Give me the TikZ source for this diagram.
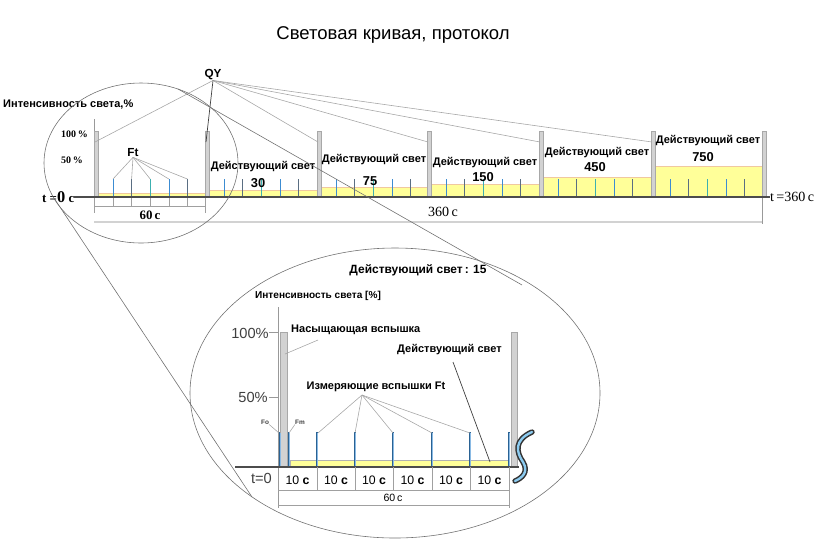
\documentclass[tikz,border=0pt]{standalone}
\usepackage{fontspec}
\setmainfont{Liberation Sans}
\newfontfamily\serifA{Liberation Serif}
\definecolor{barfill}{HTML}{D2D2D2}
\definecolor{bardraw}{HTML}{A8A8A8}
\definecolor{yel}{HTML}{FFFF99}
\definecolor{yeledge}{HTML}{F0C8A0}
\definecolor{flA}{HTML}{3C8CD2}
\definecolor{flB}{HTML}{3CB0B0}
\definecolor{flC}{HTML}{5A6E82}
\definecolor{ell}{HTML}{707070}
\definecolor{dimc}{HTML}{A0A0A0}
\definecolor{txtg}{HTML}{404040}
\definecolor{sq}{HTML}{8CCBF0}
\begin{document}
\begin{tikzpicture}[x=0.03cm,y=-0.03cm,
  lbl/.style={font=\fontsize{9.4}{10}\selectfont\bfseries, inner sep=0},
  num/.style={font=\fontsize{11}{12}\selectfont\bfseries, inner sep=0},
  lblsm/.style={font=\fontsize{8.6}{9}\selectfont\bfseries, inner sep=0},
  ser/.style={font=\serifA\fontsize{11}{12}\selectfont\bfseries, inner sep=0},
  serr/.style={font=\serifA\fontsize{12}{13}\selectfont, inner sep=0},
  reg/.style={font=\fontsize{12.5}{13}\selectfont, text=txtg, inner sep=0},
  tiny/.style={font=\fontsize{5.5}{6}\selectfont\bfseries, text=txtg, inner sep=0},
  bar/.style={fill=barfill, draw=bardraw, line width=0.5pt},
  ptr/.style={draw=gray!70, line width=0.5pt},
  ptrd/.style={draw=black!75, line width=0.6pt},
  ellline/.style={draw=ell, line width=0.5pt},
  dim/.style={draw=dimc, line width=0.5pt}]
\useasboundingbox (0,0) rectangle (822,546);

% title
\node[font=\fontsize{15.8}{17}\selectfont, inner sep=0] (title) at (393,35) {Световая кривая, протокол};

% ----- top chart -----
% yellow levels
\foreach \a/\b/\t [count=\i] in {98.2/204.8/193, 209.2/316.8/190.7, 321.2/426.8/187.7, 431.2/538.8/184, 543.2/650.8/177.3, 655.2/761.8/166.7}{
  \fill[yel] (\a,\t) rectangle (\b,196);
  \draw[yeledge, line width=0.6pt] (\a,\t) -- (\b,\t);
}
% dimension lines top
\draw[dim] (94,196) -- (94,213);
\draw[draw=gray!80, line width=0.7pt] (94,119) -- (94,196);
\draw[dim] (205,196) -- (205,213);
\draw[dim] (94,206) -- (205,206);
\draw[draw=gray!35, line width=1.3pt] (94,222) -- (762,222);
\draw[draw=gray!80, line width=0.6pt] (762,196) -- (762,224);
\foreach \x in {113,131.6,150.2,168.8,187.4} \draw[dim] (\x,196) -- (\x,206);
% flashes
\foreach \s [count=\j] in {98.2,209.2,321.2,431.2,543.2,655.2}{
  \foreach \k/\c in {0/flA,1/flC,2/flB,3/flA,4/flC}{
    \draw[\c, line width=0.8pt] ({\s+15+18.6*\k},179) -- ({\s+15+18.6*\k},196);
  }
}
% bars
\foreach \x [count=\i] in {96,207,319,429,541,653,764}{
  \fill[bar] (\x-2.2,131) rectangle (\x+2.2,196);
  \coordinate (b\i) at (\x-1,142);
}
% axis
\node[ser, anchor=west] (t0) at (42,197) {t =\fontsize{14}{14}\selectfont 0\fontsize{11}{12}\selectfont{} с};
\node[serr, anchor=west] (t360) at (770,197) {t\,=360\,с};
\draw[black!70, line width=1pt] (t0.east) -- (t360.west);

% labels top
\node[lbl, anchor=west] (int) at (3,105) {Интенсивность света,\%};
\node[ser, font=\serifA\fontsize{8.5}{9}\selectfont\bfseries, anchor=west] (p100) at (61,134) {100\,\%};
\node[ser, font=\serifA\fontsize{8.5}{9}\selectfont\bfseries, anchor=west] (p50) at (61,160) {50\,\%};
\node[ser, fill=white, inner sep=1pt] (d60) at (150,215) {60\,с};
\node[serr] (d360) at (443,212) {360\,с};

\node[lbl, font=\fontsize{10}{11}\selectfont\bfseries] (ft) at (133,153) {Ft};
\foreach \x in {113,131.6,150.2,168.8,187.4} \draw[ptr] (ft.south) -- (\x,179);

\node[lbl, font=\fontsize{10}{11}\selectfont\bfseries] (qy) at (213,75) {QY};
\foreach \i in {1,3,4,5,6} \draw[ptr] (qy.south) -- (b\i);
\draw[ptrd] (qy.south) -- (b2);

\node[lbl] (e30a) at (263,167) {Действующий свет};
\node[num] (e30b) at (258,183) {30};
\node[lbl] (e75a) at (374,160) {Действующий свет};
\node[num] (e75b) at (370,181) {75};
\node[lbl] (e150a) at (485,163) {Действующий свет};
\node[num] (e150b) at (483,177) {150};
\node[lbl] (e450a) at (597,153) {Действующий свет};
\node[num] (e450b) at (595,167) {450};
\node[lbl] (e750a) at (708,141) {Действующий свет};
\node[num] (e750b) at (703,157) {750};

% ellipses and connecting lines
\draw[ellline] (141,163) ellipse [x radius=97, y radius=80];
\draw[ellline] (395,393) ellipse [x radius=205, y radius=145];
\coordinate (c1) at (54,198);
\coordinate (c2) at (252,497);
\coordinate (c3) at (178,89);
\coordinate (c4) at (522,285);
\draw[ellline] (c1) -- (c2);
\draw[ellline] (c3) -- (c4);

% ----- bottom chart -----
\node[lbl, font=\fontsize{10.2}{11}\selectfont\bfseries] (e15) at (418,270) {Действующий свет\,: 15};
\node[lblsm] (intb) at (318,296) {Интенсивность света [\%]};
\node[reg, anchor=east] (b100) at (269,333) {100\%};
\node[reg, anchor=east] (b50) at (268,397) {50\%};
\draw[gray!80, line width=0.7pt] (269,332) -- (278,332);
\draw[gray!80, line width=0.7pt] (269,397) -- (278,397);
\draw[gray!80, line width=0.7pt] (278,307) -- (278,508);

% yellow band
\fill[yel, draw=gray!60, line width=0.4pt] (290,460) rectangle (508,467);
\foreach \x in {317,355,393,432,470} \draw[gray!60, line width=0.4pt] (\x,460) -- (\x,467);

% bars
\fill[bar] (280,332) rectangle (287,467);
\fill[bar] (511,332) rectangle (517,467);

% flashes
\foreach \x in {279.5,288.5,317,355,393,432,470,509}{
  \draw[flA!70!black, line width=1.3pt] (\x,432) -- (\x,467);
  \draw[flA!60!white, line width=0.5pt] (\x+0.3,433) -- (\x+0.3,466);
}

% axis
\node[reg, anchor=east] (tz) at (272,478) {t=0};
\draw[black!70, line width=1pt] (235,467) -- (519,467);

% dimension
\foreach \x in {317,355,393,432,470} \draw[dim] (\x,467) -- (\x,490);
\draw[dim] (509,467) -- (509,508);
\draw[dim] (278,490) -- (509,490);
\draw[dim] (278,505) -- (509,505);
\foreach \x [count=\i] in {297.5,336,374,412.5,451,489.5}
  \node[reg, font=\fontsize{10.5}{11}\selectfont, text=black] (ten\i) at (\x,480) {10 \textbf{с}};
\node[reg, font=\fontsize{9}{10}\selectfont, text=black, fill=white, inner sep=0.5pt] (six) at (393,498) {60\,с};

% labels bottom
\node[lbl, anchor=west] (sat) at (291,330) {Насыщающая вспышка};
\draw[ptr] (318,340) -- (285,354);
\node[lbl, anchor=west] (act) at (397,350) {Действующий свет};
\coordinate (actend) at (490,462);
\draw[ptrd] (453,362) -- (actend);
\node[lbl] (meas) at (376,387) {Измеряющие вспышки Ft};
\coordinate (mt) at (362,395);
\foreach \x in {318,355,393,432,470} \draw[ptr] (mt) -- (\x,433);
\node[tiny] (fo) at (265,422) {Fo};
\node[tiny] (fm) at (300,422) {Fm};
\draw[ptr] (fo.south east) -- (279,433);
\draw[ptr] (fm.south west) -- (289,433);

% break squiggle
\draw[black!80, line width=4.6pt, line cap=round] (532,432) .. controls (514,440) and (516,452) .. (523,462) .. controls (529,472) and (522,478) .. (515,481);
\draw[sq, line width=2pt, line cap=round] (532,432) .. controls (514,440) and (516,452) .. (523,462) .. controls (529,472) and (522,478) .. (515,481);
\end{tikzpicture}
\end{document}
